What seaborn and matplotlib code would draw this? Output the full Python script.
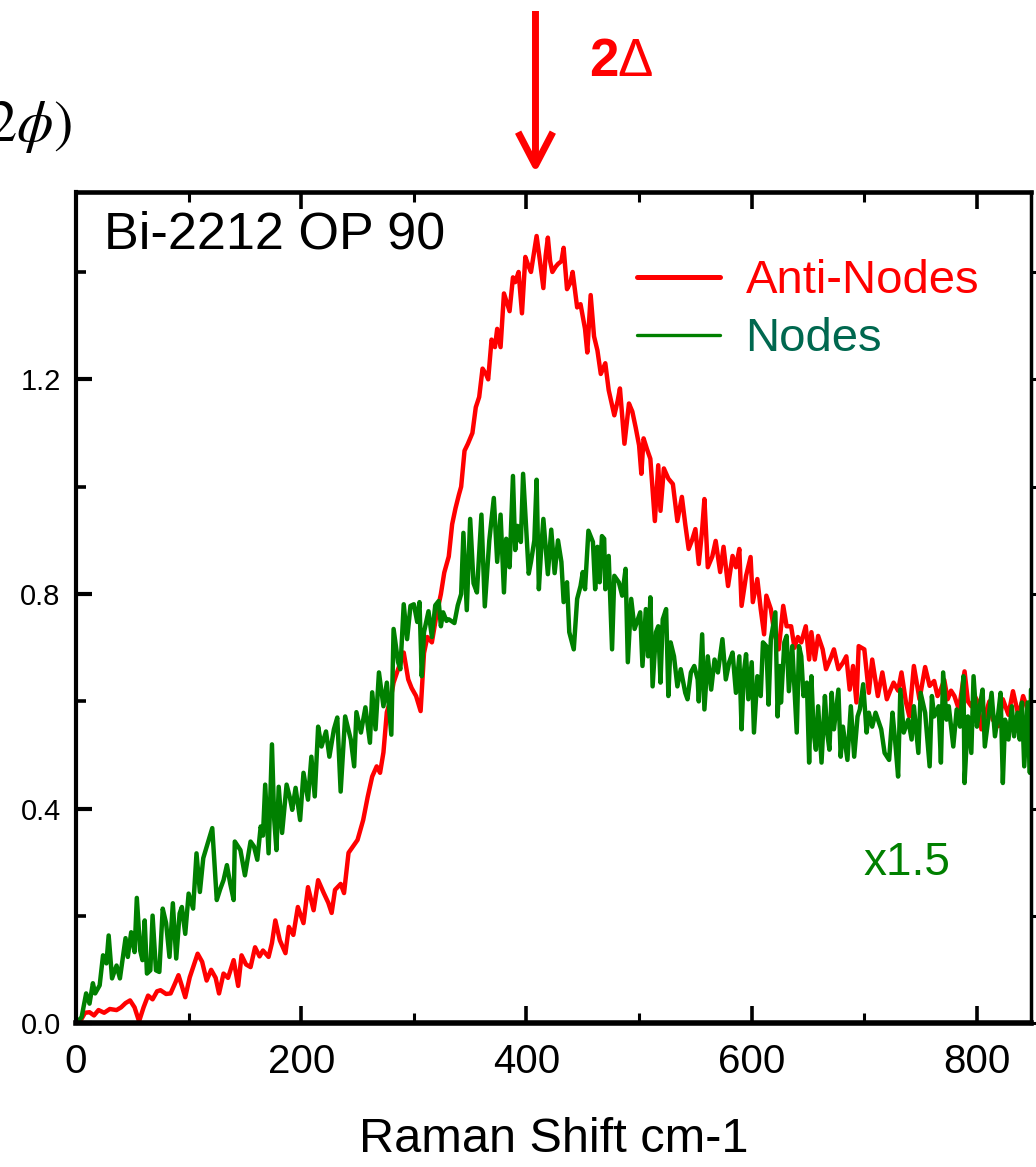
import matplotlib
matplotlib.use("Agg")
import matplotlib.pyplot as plt
import pandas as pd
import seaborn as sns
from matplotlib.lines import Line2D
from matplotlib.ticker import FixedLocator

# ---------------- data ----------------
anti_x = [0, 4, 8, 12, 16, 20, 25, 30, 36, 40, 44, 48, 52, 56, 60, 64, 68, 72, 75, 80,
          84, 88, 91, 94, 97, 101, 104, 108, 112, 116, 120, 124, 127, 131, 135, 140, 144, 147, 151, 155,
          159, 163, 166, 171, 174, 177, 181, 186, 189, 193, 197, 202, 206, 211, 215, 220, 224, 227, 230, 235,
          238, 242, 246, 250, 255, 259, 263, 267, 270, 273, 276, 279, 282, 287, 291, 295, 298, 302, 306, 309,
          312, 316, 320, 324, 327, 331, 334, 337, 340, 342, 345, 348, 352, 355, 358, 361, 364, 366, 369, 372,
          374, 377, 380, 383, 385, 388, 390, 393, 396, 399, 402, 404, 407, 409, 412, 415, 417, 419, 421, 423,
          426, 428, 431, 433, 436, 439, 441, 445, 448, 452, 454, 457, 460, 463, 466, 470, 473, 476, 478, 481,
          483, 487, 491, 494, 497, 500, 502, 504, 507, 510, 514, 517, 519, 522, 526, 530, 534, 538, 541, 544,
          547, 550, 553, 556, 558, 561, 565, 568, 572, 575, 579, 583, 586, 589, 591, 595, 599, 601, 605, 608,
          611, 613, 617, 620, 624, 628, 631, 635, 638, 641, 644, 648, 651, 653, 656, 659, 663, 666, 670, 673,
          677, 681, 684, 687, 690, 693, 695, 700, 704, 707, 712, 716, 720, 723, 726, 730, 733, 737, 740, 744,
          749, 754, 758, 762, 765, 768, 771, 774, 777, 780, 784, 789, 792, 795, 798, 801, 804, 808, 811, 814,
          819, 823, 828, 832, 837, 841, 846, 848]
anti_y = [0.000, 0.005, 0.020, 0.021, 0.015, 0.025, 0.020, 0.027, 0.025, 0.030, 0.038, 0.043, 0.030, 0.004, 0.030, 0.052, 0.045, 0.060, 0.062, 0.055,
          0.056, 0.075, 0.090, 0.070, 0.049, 0.086, 0.105, 0.130, 0.115, 0.080, 0.100, 0.085, 0.056, 0.093, 0.085, 0.118, 0.070, 0.127, 0.110, 0.105,
          0.142, 0.125, 0.136, 0.124, 0.150, 0.192, 0.155, 0.131, 0.180, 0.165, 0.217, 0.187, 0.254, 0.211, 0.267, 0.243, 0.225, 0.206, 0.249, 0.260,
          0.243, 0.318, 0.330, 0.342, 0.379, 0.422, 0.460, 0.479, 0.467, 0.505, 0.580, 0.600, 0.635, 0.666, 0.691, 0.641, 0.625, 0.610, 0.582, 0.690,
          0.720, 0.710, 0.760, 0.800, 0.840, 0.870, 0.930, 0.960, 0.985, 1.000, 1.067, 1.080, 1.100, 1.148, 1.167, 1.220, 1.210, 1.200, 1.274, 1.260,
          1.294, 1.260, 1.360, 1.340, 1.327, 1.390, 1.381, 1.400, 1.323, 1.428, 1.410, 1.400, 1.440, 1.467, 1.420, 1.370, 1.430, 1.464, 1.420, 1.400,
          1.410, 1.415, 1.420, 1.445, 1.368, 1.380, 1.400, 1.334, 1.340, 1.294, 1.250, 1.357, 1.280, 1.254, 1.210, 1.230, 1.180, 1.152, 1.133, 1.160,
          1.183, 1.080, 1.155, 1.140, 1.110, 1.077, 1.024, 1.090, 1.070, 1.052, 0.936, 1.040, 0.955, 1.034, 1.015, 1.005, 0.936, 0.981, 0.930, 0.884,
          0.900, 0.921, 0.856, 0.920, 0.977, 0.850, 0.870, 0.899, 0.841, 0.888, 0.815, 0.871, 0.850, 0.884, 0.778, 0.834, 0.869, 0.785, 0.828, 0.772,
          0.725, 0.797, 0.772, 0.729, 0.697, 0.778, 0.740, 0.740, 0.700, 0.720, 0.710, 0.740, 0.678, 0.729, 0.678, 0.722, 0.697, 0.660, 0.680, 0.697,
          0.660, 0.672, 0.684, 0.622, 0.666, 0.598, 0.703, 0.697, 0.616, 0.678, 0.610, 0.654, 0.604, 0.620, 0.635, 0.620, 0.654, 0.598, 0.572, 0.666,
          0.604, 0.664, 0.629, 0.638, 0.610, 0.623, 0.640, 0.604, 0.620, 0.610, 0.585, 0.656, 0.600, 0.591, 0.610, 0.598, 0.548, 0.579, 0.600, 0.566,
          0.554, 0.604, 0.575, 0.619, 0.572, 0.610, 0.579, 0.598]

nodes_x = [0, 5, 9, 12, 15, 17, 21, 24, 27, 29, 32, 36, 39, 44, 46, 49, 52, 54, 57, 59,
           61, 63, 66, 68, 71, 74, 77, 80, 83, 86, 89, 92, 94, 97, 100, 104, 107, 110, 113, 116,
           121, 125, 128, 131, 134, 137, 140, 141, 146, 150, 155, 158, 161, 164, 166, 168, 171, 174, 176, 178,
           180, 183, 187, 190, 192, 195, 199, 202, 206, 209, 212, 215, 218, 222, 225, 229, 232, 235, 239, 244,
           247, 249, 253, 257, 261, 263, 266, 269, 273, 276, 280, 282, 286, 288, 291, 294, 297, 300, 303, 305,
           307, 309, 313, 316, 319, 322, 324, 326, 329, 331, 336, 339, 342, 344, 347, 350, 353, 356, 360, 363,
           367, 371, 374, 377, 380, 382, 385, 388, 390, 392, 395, 397, 400, 402, 404, 407, 409, 411, 413, 415,
           419, 422, 425, 428, 431, 433, 436, 438, 442, 445, 448, 450, 452, 455, 459, 461, 463, 465, 467, 469,
           470, 473, 476, 478, 482, 485, 488, 490, 493, 496, 501, 503, 506, 508, 510, 512, 515, 517, 519, 521,
           524, 526, 528, 531, 534, 537, 541, 543, 546, 549, 552, 553, 556, 558, 561, 564, 567, 570, 574, 577,
           580, 583, 586, 589, 591, 593, 595, 597, 600, 602, 605, 608, 610, 613, 615, 617, 621, 623, 625, 626,
           629, 631, 633, 636, 640, 642, 644, 646, 649, 651, 653, 655, 657, 659, 662, 665, 667, 669, 671, 673,
           677, 679, 681, 685, 688, 691, 694, 696, 699, 702, 704, 707, 710, 715, 718, 722, 725, 727, 730, 732,
           735, 739, 742, 744, 748, 750, 754, 758, 760, 762, 766, 768, 770, 773, 775, 779, 782, 785, 788, 789,
           792, 795, 797, 800, 802, 805, 807, 810, 813, 816, 819, 821, 823, 825, 828, 831, 833, 836, 838, 840,
           842, 845, 847, 848]
nodes_y = [0.000, 0.012, 0.056, 0.037, 0.075, 0.056, 0.071, 0.127, 0.112, 0.164, 0.084, 0.108, 0.084, 0.159, 0.124, 0.170, 0.133, 0.234, 0.136, 0.118,
           0.192, 0.093, 0.099, 0.201, 0.099, 0.096, 0.214, 0.187, 0.124, 0.224, 0.121, 0.205, 0.217, 0.167, 0.242, 0.214, 0.317, 0.245, 0.308, 0.329,
           0.364, 0.230, 0.250, 0.267, 0.295, 0.260, 0.230, 0.339, 0.323, 0.276, 0.339, 0.330, 0.305, 0.367, 0.350, 0.445, 0.317, 0.520, 0.380, 0.323,
           0.441, 0.355, 0.445, 0.420, 0.398, 0.439, 0.379, 0.467, 0.417, 0.497, 0.423, 0.553, 0.516, 0.544, 0.497, 0.548, 0.570, 0.432, 0.572, 0.529,
           0.479, 0.580, 0.542, 0.589, 0.523, 0.617, 0.548, 0.654, 0.591, 0.635, 0.538, 0.735, 0.673, 0.660, 0.781, 0.716, 0.778, 0.781, 0.748, 0.785,
           0.647, 0.729, 0.768, 0.720, 0.779, 0.787, 0.740, 0.766, 0.750, 0.753, 0.746, 0.779, 0.800, 0.914, 0.770, 0.940, 0.820, 0.803, 0.948, 0.777,
           0.900, 0.979, 0.860, 0.948, 0.803, 0.903, 0.850, 1.020, 0.882, 0.927, 0.897, 1.024, 0.914, 0.838, 0.860, 0.900, 1.013, 0.809, 0.882, 0.940,
           0.837, 0.920, 0.839, 0.900, 0.860, 0.785, 0.822, 0.729, 0.697, 0.791, 0.815, 0.841, 0.809, 0.918, 0.897, 0.809, 0.888, 0.822, 0.908, 0.903,
           0.809, 0.871, 0.697, 0.834, 0.822, 0.797, 0.847, 0.673, 0.791, 0.735, 0.766, 0.666, 0.772, 0.684, 0.794, 0.628, 0.729, 0.740, 0.635, 0.753,
           0.772, 0.610, 0.710, 0.684, 0.628, 0.660, 0.616, 0.604, 0.654, 0.666, 0.641, 0.600, 0.725, 0.585, 0.684, 0.622, 0.678, 0.654, 0.716, 0.641,
           0.673, 0.691, 0.616, 0.684, 0.548, 0.654, 0.688, 0.604, 0.673, 0.542, 0.647, 0.610, 0.710, 0.703, 0.594, 0.716, 0.766, 0.572, 0.666, 0.598,
           0.710, 0.722, 0.619, 0.703, 0.542, 0.703, 0.684, 0.610, 0.635, 0.486, 0.647, 0.542, 0.510, 0.591, 0.486, 0.610, 0.542, 0.510, 0.616, 0.548,
           0.622, 0.497, 0.553, 0.491, 0.591, 0.497, 0.572, 0.585, 0.632, 0.542, 0.579, 0.553, 0.579, 0.548, 0.504, 0.491, 0.579, 0.535, 0.460, 0.622,
           0.542, 0.566, 0.529, 0.591, 0.504, 0.616, 0.579, 0.479, 0.610, 0.572, 0.591, 0.486, 0.654, 0.566, 0.591, 0.516, 0.585, 0.553, 0.647, 0.448,
           0.572, 0.504, 0.647, 0.553, 0.585, 0.622, 0.516, 0.566, 0.616, 0.535, 0.579, 0.616, 0.448, 0.566, 0.529, 0.591, 0.535, 0.579, 0.529, 0.598,
           0.479, 0.598, 0.467, 0.622]

series_labels = ["Anti-Nodes", "Nodes"]
x_major_ticks = [0, 200, 400, 600, 800]
x_minor_ticks = [100, 300, 500, 700]
y_major_ticks = [0.0, 0.4, 0.8, 1.2]
y_minor_ticks = [0.2, 0.6, 1.0, 1.4]
y_tick_labels = ["0.0", "0.4", "0.8", "1.2"]
x_label = "Raman Shift cm-1"
sample_label = "Bi-2212 OP 90"
scale_label = "x1.5"
gap_position = 408          # cm-1, arrow location
x_limits = (0, 848)
y_limits = (0, 1.549)

RED = "#FF0000"
GREEN = "#008000"
NODES_TEXT = "#00684F"

# ---------------- figure ----------------
sns.set_style("white")
plt.rcParams["font.family"] = ["Liberation Sans", "DejaVu Sans"]
plt.rcParams["mathtext.fontset"] = "stix"
for key in ["text.color", "axes.labelcolor", "xtick.color", "ytick.color",
            "xtick.labelcolor", "ytick.labelcolor"]:
    plt.rcParams[key] = "black"

fig = plt.figure(figsize=(10.36, 11.67), dpi=100)
ax = fig.add_axes([0.07336, 0.12297, 0.92181, 0.71251])

df_anti = pd.DataFrame({"shift": anti_x, "chi": anti_y})
df_nodes = pd.DataFrame({"shift": nodes_x, "chi": nodes_y})

sns.lineplot(data=df_anti, x="shift", y="chi", ax=ax, color=RED, lw=3.2,
             estimator=None, sort=False, legend=False)
sns.lineplot(data=df_nodes, x="shift", y="chi", ax=ax, color=GREEN, lw=3.2,
             estimator=None, sort=False, legend=False)

ax.set_xlim(*x_limits)
ax.set_ylim(*y_limits)

# spines
for side, w in {"left": 3.0, "top": 3.3, "bottom": 4.0, "right": 2.5}.items():
    ax.spines[side].set_visible(True)
    ax.spines[side].set_linewidth(w)
    ax.spines[side].set_color("black")

ax.xaxis.set_major_locator(FixedLocator(x_major_ticks))
ax.xaxis.set_minor_locator(FixedLocator(x_minor_ticks))
ax.yaxis.set_major_locator(FixedLocator(y_major_ticks))
ax.yaxis.set_minor_locator(FixedLocator(y_minor_ticks))
ax.set_yticklabels(y_tick_labels)

ax.tick_params(axis="x", which="both", direction="in", top=True, bottom=True, colors="black")
ax.tick_params(axis="x", which="major", length=12, width=2.6, labelsize=29, pad=14)
ax.tick_params(axis="x", which="minor", length=7.5, width=2.2)
ax.tick_params(axis="y", which="both", direction="in", left=True, right=False, colors="black")
ax.tick_params(axis="y", which="major", length=11.5, width=3.0, labelsize=21, pad=11)
ax.tick_params(axis="y", which="minor", length=7, width=2.6)

# right-side outward ticks (clipped by figure edge)
ax_r = ax.twinx()
ax_r.set_ylim(*y_limits)
ax_r.yaxis.set_major_locator(FixedLocator(y_major_ticks))
ax_r.yaxis.set_minor_locator(FixedLocator(y_minor_ticks))
ax_r.tick_params(axis="y", which="both", direction="out", length=8, width=2.2,
                 labelright=False, right=True, colors="black")
for s in ax_r.spines.values():
    s.set_visible(False)

ax.set_xlabel(x_label, fontsize=35, color="black")
ax.set_ylabel("")
ax.xaxis.set_label_coords(0.5, -0.112)
ax.xaxis.label.set_verticalalignment("top")

# annotations
ax.text(0.029, 0.9315, sample_label, transform=ax.transAxes, fontsize=37.5,
        ha="left", va="baseline", color="black")
ax.text(0.825, 0.1786, scale_label, transform=ax.transAxes, fontsize=33,
        ha="left", va="baseline", color=GREEN)

handles = [Line2D([], [], color=RED, lw=3.6), Line2D([], [], color=GREEN, lw=2.4)]
leg = ax.legend(handles, series_labels, loc="upper left", bbox_to_anchor=(0.5874, 0.919),
                frameon=False, borderpad=0, borderaxespad=0, handlelength=1.75,
                handletextpad=0.55, labelspacing=0.29, prop={"size": 34})
leg.get_texts()[0].set_color(RED)
leg.get_texts()[1].set_color(NODES_TEXT)

# 2Δ arrow above the plot
ax.annotate("", xy=(gap_position, 994), xycoords=("data", "figure pixels"),
            xytext=(gap_position, 1156), textcoords=("data", "figure pixels"),
            annotation_clip=False,
            arrowprops=dict(arrowstyle="->,head_length=2.4,head_width=1.25",
                            mutation_scale=10, lw=5, color=RED,
                            shrinkA=0, shrinkB=0, capstyle="butt"))
fig.text(589 / 1036, 1 - 76 / 1167, "2", fontsize=38, fontweight="bold",
         color=RED, ha="left", va="baseline")
fig.text(617 / 1036, 1 - 76 / 1167, "\u0394", fontsize=38, color=RED,
         ha="left", va="baseline")

# cut-off y label at the top left (partly outside the figure, as in the reference)
fig.text(72 / 1036, 1 - 142 / 1167, r"$\chi^{\prime\prime}(2\phi)$", fontsize=42,
         ha="right", va="baseline", color="black")

fig.savefig("out.png", dpi=100)
